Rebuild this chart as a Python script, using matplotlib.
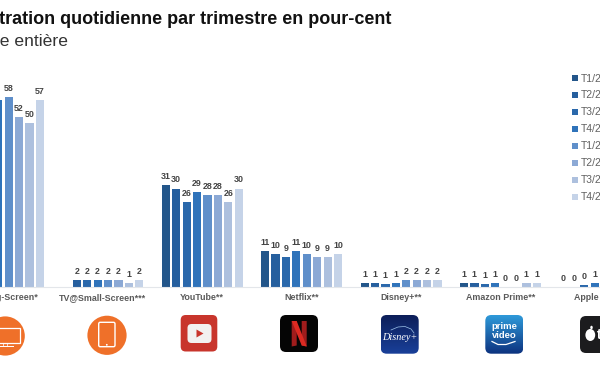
import numpy as np
import matplotlib
matplotlib.use("Agg")
import matplotlib.pyplot as plt
from matplotlib.patches import Circle, FancyBboxPatch, Rectangle, Polygon, Ellipse

plt.rcParams['font.family'] = ['Liberation Sans', 'DejaVu Sans']

categories = ["TV@Big-Screen*", "TV@Small-Screen***", "YouTube**", "Netflix**",
              "Disney+**", "Amazon Prime**", "Apple TV+**"]
quarters = ["T1/2023", "T2/2023", "T3/2023", "T4/2023",
            "T1/2024", "T2/2024", "T3/2024", "T4/2024"]
colors = ["#23568a", "#265f9e", "#2a68ab", "#2f73ba",
          "#5f8fca", "#8ca9d5", "#adc0de", "#c5d3e8"]

nan = np.nan
t1_23 = [nan, nan, 31, 11, 1.2, 1.2, 0]
t2_23 = [nan, 2, 30, 10, 1.2, 1.2, 0]
t3_23 = [nan, 2, 26, 9, 0.9, 0.9, 0.4]
t4_23 = [57, 2, 29, 11, 1.2, 1.2, 1]
t1_24 = [58, 2, 28, 10, 2, 0, nan]
t2_24 = [52, 2, 28, 9, 2, 0, nan]
t3_24 = [50, 1.2, 26, 9, 2, 1.1, nan]
t4_24 = [57, 2, 30, 10, 2, 1.1, nan]
series = [t1_23, t2_23, t3_23, t4_23, t1_24, t2_24, t3_24, t4_24]

W, H = 600, 372
base_px = 286.7
px_per_unit = 3.27
group_px = 99.4
first_px = 3.4
step = 10.4 / group_px
bar_w = 8.2 / group_px

fig = plt.figure(figsize=(6, 3.72), dpi=100)
ax = fig.add_axes([0, (H - base_px) / H, 1, 226 / H])
ax.set_xlim(-first_px / group_px, (W - first_px) / group_px)
ax.set_ylim(0, 226 / px_per_unit)

x = np.arange(len(categories))
handles = []
for i, vals in enumerate(series):
    pos = x + (i - 3.5) * step
    b = ax.bar(pos, vals, bar_w, color=colors[i], label=quarters[i])
    handles.append(b)
    for p, v in zip(pos, vals):
        if not np.isnan(v):
            ax.annotate(str(round(v)), (p, v), xytext=(0, 6.2), textcoords="offset points",
                        ha="center", va="center", fontsize=6.4, fontweight="bold", color="#444444")

for s in ["top", "left", "right"]:
    ax.spines[s].set_visible(False)
ax.spines["bottom"].set_color("#e3e6ea")
ax.spines["bottom"].set_linewidth(0.8)
ax.set_yticks([])
ax.set_xticks(x)
ax.set_xticklabels(categories, fontsize=6.4, fontweight="bold", color="#5a5a5a")
ax.tick_params(axis="x", length=0, pad=4.3)

fig.legend(handles=handles, loc="upper left", bbox_to_anchor=(572 / W, 1 - 73.5 / H),
           frameon=False, fontsize=7.5, labelcolor="#606060", borderpad=0, borderaxespad=0,
           handlelength=0.55, handleheight=0.55, handletextpad=0.25, labelspacing=0.67)

fig.text(391 / W, 1 - 23.5 / H, "Pénétration quotidienne par trimestre en pour-cent",
         ha="right", va="baseline", fontsize=12.95, fontweight="bold", color="#111111")
fig.text(68 / W, 1 - 45.5 / H, "Suisse entière", ha="right", va="baseline",
         fontsize=12.6, color="#333333")

# logos, drawn in pixel coordinates
ic = fig.add_axes([0, 0, 1, 1], zorder=5)
ic.set_xlim(0, W)
ic.set_ylim(H, 0)
ic.axis("off")


def rounded(x0, y0, x1, y1, r, **kw):
    p = FancyBboxPatch((x0 + r, y0 + r), x1 - x0 - 2 * r, y1 - y0 - 2 * r,
                       boxstyle="round,pad=%f,rounding_size=%f" % (r, r), linewidth=0, **kw)
    ic.add_patch(p)
    return p


def gradient(x0, y0, x1, y1, r, top, bottom):
    clip = rounded(x0, y0, x1, y1, r, facecolor="none")
    top, bottom = np.array(top), np.array(bottom)
    t = np.linspace(0, 1, 40)[:, None, None]
    im = ic.imshow(top * (1 - t) + bottom * t, extent=(x0, x1, y1, y0), aspect="auto", zorder=1)
    im.set_clip_path(clip)
    ic.set_xlim(0, W)
    ic.set_ylim(H, 0)


orange = "#ef7029"
# big screen
ic.add_patch(Circle((5.2, 336), 19.6, color=orange, lw=0))
ic.add_patch(Rectangle((-14, 327.7), 34, 15.6, facecolor="none", edgecolor="white", lw=0.9))
ic.add_patch(Rectangle((-4, 346), 18, 1, color="white", lw=0))
ic.add_patch(Rectangle((3, 343.3), 4, 2.7, facecolor="none", edgecolor="white", lw=0.5))
# tablet
ic.add_patch(Circle((107, 335.3), 19.6, color=orange, lw=0))
rounded(98.7, 322.3, 115, 346.7, 1.5, facecolor="none", edgecolor="white")
ic.patches[-1].set_linewidth(1)
ic.add_patch(Circle((106.8, 344.8), 0.9, color="white", lw=0))
# youtube
rounded(180.7, 315, 217.3, 351.5, 5, facecolor="#c8352c", zorder=1)
rounded(187.5, 324, 211.5, 343, 4, facecolor="#f2f1f0", zorder=2)
ic.add_patch(Polygon([(196.5, 329.5), (196.5, 337.5), (203.5, 333.5)], color="#c8352c", lw=0, zorder=3))
# netflix
rounded(280, 315, 318, 352, 6, facecolor="#050505", zorder=1)
ic.add_patch(Polygon([(291.7, 321), (296.7, 321), (296.7, 345.5), (291.7, 346.5)], color="#a01c1c", lw=0, zorder=2))
ic.add_patch(Polygon([(301.7, 321), (306.7, 321), (306.7, 346.5), (301.7, 345.5)], color="#a01c1c", lw=0, zorder=2))
ic.add_patch(Polygon([(291.7, 321), (296.7, 321), (306.7, 346.5), (301.7, 345.5)], color="#dc2a22", lw=0, zorder=3))
# disney
gradient(380.7, 315, 418.7, 353.7, 6, (0.05, 0.12, 0.35), (0.10, 0.25, 0.60))
ic.text(399.7, 337, "Disney+", ha="center", va="center", fontsize=7.4, color="white",
        style="italic", family=["Liberation Serif", "DejaVu Serif"], zorder=3)
ic.plot([391, 398, 405, 411, 414], [330, 327, 326.5, 329, 333], color="#9fc4ea", lw=0.5, zorder=3)
# prime video
gradient(485.3, 315, 523.3, 353.7, 6, (0.18, 0.60, 0.85), (0.05, 0.20, 0.50))
ic.text(504, 326.5, "prime", ha="center", va="center", fontsize=6.8, fontweight="bold",
        color="white", zorder=3)
ic.text(504, 336, "video", ha="center", va="center", fontsize=6.8, fontweight="bold",
        color="white", zorder=3)
ic.plot([492, 498, 506, 515], [341.5, 344.5, 344.5, 341.5], color="white", lw=0.9, zorder=3)
# apple
rounded(580, 316, 625, 353, 6, facecolor="#1c1c1e", zorder=1)
ic.add_patch(Ellipse((590.3, 335), 9.8, 12, color="white", lw=0, zorder=2))
ic.add_patch(Ellipse((591.5, 327.5), 2.5, 3.5, color="white", lw=0, zorder=2))
ic.text(597.3, 335, "tv", ha="left", va="center", fontsize=10, fontweight="bold", color="white", zorder=3)

fig.savefig("out.png", dpi=100)
plt.close(fig)
